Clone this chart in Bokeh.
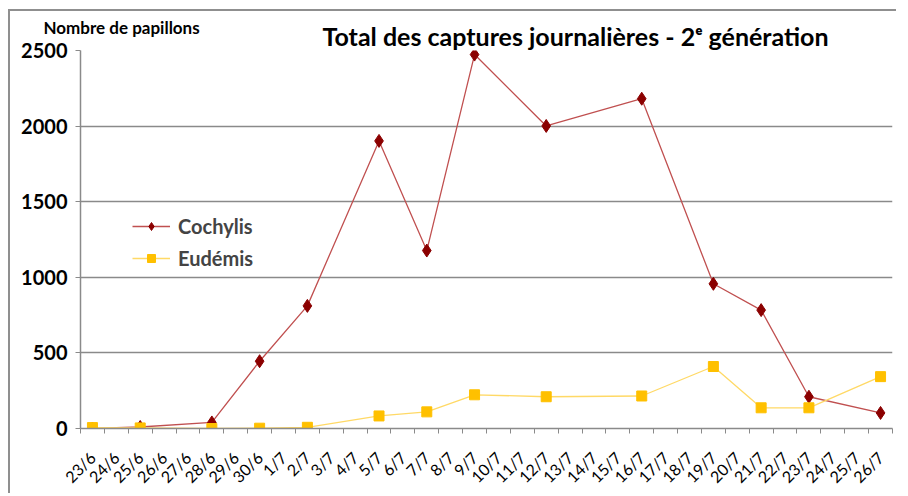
from bokeh.plotting import figure
from bokeh.models import (ColumnDataSource, FixedTicker, Range1d, Legend,
                          LegendItem, Title)
from bokeh.embed import file_html
from bokeh.resources import INLINE
from math import pi

# ---- data ----
dates = ["23/6", "24/6", "25/6", "26/6", "27/6", "28/6", "29/6", "30/6",
         "1/7", "2/7", "3/7", "4/7", "5/7", "6/7", "7/7", "8/7", "9/7",
         "10/7", "11/7", "12/7", "13/7", "14/7", "15/7", "16/7", "17/7",
         "18/7", "19/7", "20/7", "21/7", "22/7", "23/7", "24/7", "25/7", "26/7"]
sample_dates = ["23/6", "25/6", "28/6", "30/6", "2/7", "5/7", "7/7", "9/7",
                "12/7", "16/7", "19/7", "21/7", "23/7", "26/7"]
cochylis = [0, 10, 40, 445, 811, 1902, 1177, 2473, 2001, 2181, 957, 783, 210, 103]
eudemis = [6, 4, 0, 2, 8, 83, 110, 223, 210, 215, 410, 137, 137, 343]
y_ticks = [0, 500, 1000, 1500, 2000, 2500]
title_text = "Total des captures journalières - 2ᵉ génération"
y_title = "Nombre de papillons"
series_names = ["Cochylis", "Eudémis"]

FONT = "Lato"

x_pos = [dates.index(d) + 0.5 for d in sample_dates]
src = ColumnDataSource(dict(x=x_pos, date=sample_dates,
                            cochylis=cochylis, eudemis=eudemis))

p = figure(width=888, height=484, output_backend="svg", toolbar_location=None,
           x_range=Range1d(0, len(dates)), y_range=Range1d(y_ticks[0], y_ticks[-1]),
           min_border_left=70, min_border_right=6, min_border_top=39,
           min_border_bottom=55)
p.styles = {"border-top": "2px solid #8f8f8f", "border-left": "2px solid #8f8f8f",
            "margin-top": "9px", "margin-left": "8px"}
p.outline_line_color = None
p.background_fill_color = "white"

# titles: main title next to the frame, y-axis title (outer) overlapping it
p.add_layout(Title(text=title_text, align="left", offset=242, standoff=0,
                   text_font=FONT, text_font_style="bold",
                   text_font_size="25px", text_color="black"), "above")
p.title.text = y_title
p.title.align = "left"
p.title.offset = -37
p.title.standoff = -38
p.title.text_font = FONT
p.title.text_font_style = "bold"
p.title.text_font_size = "17px"
p.title.text_color = "black"

# grid
p.xgrid.grid_line_color = None
p.ygrid.grid_line_color = "#8a8a8a"
p.ygrid.grid_line_width = 1.5

# y axis
p.yaxis.ticker = FixedTicker(ticks=y_ticks)
p.yaxis.axis_line_color = "#8a8a8a"
p.yaxis.axis_line_width = 1.5
p.yaxis.major_tick_line_color = "#8a8a8a"
p.yaxis.major_tick_out = 5
p.yaxis.major_tick_in = 0
p.yaxis.minor_tick_line_color = None
p.yaxis.major_label_text_font = FONT
p.yaxis.major_label_text_font_style = "bold"
p.yaxis.major_label_text_font_size = "20px"
p.yaxis.major_label_text_color = "black"
p.yaxis.major_label_standoff = 8

# x axis: labels at category centres, tick marks at category boundaries
centres = [i + 0.5 for i in range(len(dates))]
bounds = list(range(len(dates) + 1))
p.xaxis.ticker = FixedTicker(ticks=centres, minor_ticks=bounds)
p.xaxis.major_label_overrides = {c: d for c, d in zip(centres, dates)}
p.xaxis.axis_line_color = "#8a8a8a"
p.xaxis.axis_line_width = 1.5
p.xaxis.major_tick_line_color = None
p.xaxis.minor_tick_line_color = "#8a8a8a"
p.xaxis.minor_tick_out = 5
p.xaxis.minor_tick_in = 0
p.xaxis.major_label_orientation = pi / 4
p.xaxis.major_label_text_font = FONT
p.xaxis.major_label_text_font_size = "16px"
p.xaxis.major_label_text_color = "black"
p.xaxis.major_label_standoff = 20

# series
l1 = p.line("x", "cochylis", source=src, line_color="#c05050", line_width=1.3)
m1 = p.scatter("x", "cochylis", source=src, marker="diamond", size=13,
               fill_color="#8b0000", line_color="#8b0000")
l2 = p.line("x", "eudemis", source=src, line_color="#ffd966", line_width=1.3)
m2 = p.scatter("x", "eudemis", source=src, marker="square", size=10,
               fill_color="#ffc000", line_color="#ffc000")

legend = Legend(items=[LegendItem(label=series_names[0], renderers=[l1, m1]),
                       LegendItem(label=series_names[1], renderers=[l2, m2])],
                location=(52, 158), border_line_color=None,
                background_fill_alpha=0, glyph_width=38, label_standoff=8,
                spacing=8, padding=4)
legend.label_text_font = FONT
legend.label_text_font_style = "bold"
legend.label_text_font_size = "20px"
p.add_layout(legend, "center")

open("out.html", "w").write(file_html(p, INLINE))
